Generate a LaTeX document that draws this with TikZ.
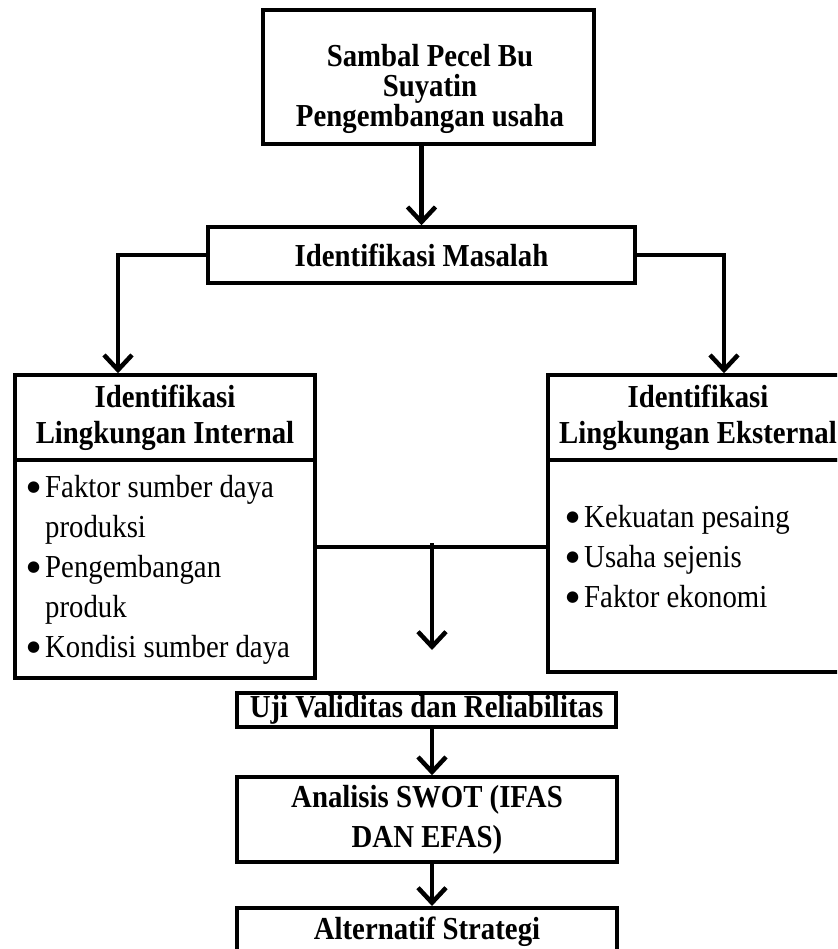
\documentclass[tikz,border=0pt]{standalone}
\usepackage{fontspec}
\setmainfont{Liberation Serif}[FakeStretch=0.9]
\newfontfamily\symfont{DejaVu Sans}
\usetikzlibrary{arrows.meta}
\newcommand{\blt}{\makebox[18pt][l]{\raisebox{6pt}{\symfont\fontsize{15}{15}\selectfont ●}}}

\begin{document}
\begin{tikzpicture}[x=1pt,y=-1pt]
\tikzstyle{every node}+=[inner sep=0pt]
\tikzstyle{box}=[draw=black, line width=3.5pt, fill=white]
\tikzstyle{bold}=[font=\fontsize{32}{36}\selectfont\bfseries, align=center]
\tikzstyle{plain}=[font=\fontsize{32}{40}\selectfont, align=left]
\tikzstyle{link}=[line width=3.5pt]
\tikzstyle{arr}=[line width=4.5pt, -{Straight Barb[length=15pt,width=28pt]}]
\useasboundingbox (0,0) rectangle (837,949);
\clip (0,0) rectangle (837,949);
\node [box, minimum width=331pt, minimum height=134pt] (usaha) at (428.5,77) {};
\node [bold, font=\fontsize{32}{30}\selectfont\bfseries] (usahaTxt) at (430,89) {Sambal Pecel Bu\\Suyatin\\Pengembangan usaha};
\node [box, bold, minimum width=427pt, minimum height=56pt] (masalah) at (421.5,255) {Identifikasi Masalah};
\node [box, bold, minimum width=300pt, minimum height=85pt] (intHead) at (165,417.5) {Identifikasi\\Lingkungan Internal};
\node [box, minimum width=300pt, minimum height=218pt] (intBody) at (165,569) {};
\node [plain, anchor=west] (intList) at (27,570) {\blt Faktor sumber daya\\\hspace*{18pt}produksi\\\blt Pengembangan\\\hspace*{18pt}produk\\\blt Kondisi sumber daya};
\node [box, bold, minimum width=300pt, minimum height=85pt] (extHead) at (698,417.5) {Identifikasi\\Lingkungan Eksternal};
\node [box, minimum width=300pt, minimum height=212pt] (extBody) at (698,566) {};
\node [plain, anchor=west] (extList) at (566,557) {\blt Kekuatan pesaing\\\blt Usaha sejenis\\\blt Faktor ekonomi};
\node [box, bold, minimum width=379pt, minimum height=34pt] (uji) at (426.5,710) {Uji Validitas dan Reliabilitas};
\node [box, bold, font=\fontsize{32}{40}\selectfont\bfseries, minimum width=380pt, minimum height=85pt] (swot) at (427,819.5) {Analisis SWOT (IFAS\\DAN EFAS)};
\node [box, bold, anchor=north, minimum width=380pt, inner ysep=9pt, text height=23pt, text depth=40pt] (strategi) at (427,906) {Alternatif Strategi};
\coordinate (lft) at (118,252);
\coordinate (rgt) at (724,252);
\coordinate (mid) at (432,547);
\coordinate (midEnd) at (432,650);
\draw [arr] (masalah.north |- usaha.south) -- (masalah.north);
\draw [arr] (masalah.west) -| (lft |- intHead.north);
\draw [arr] (masalah.east) -| (rgt |- extHead.north);
\draw [link] (intBody.east |- mid) -- (extBody.west |- mid);
\draw [arr] ([yshift=4pt]mid) -- (midEnd);
\draw [arr] (uji.south -| mid) -- (swot.north -| mid);
\draw [arr] (swot.south -| mid) -- (strategi.north -| mid);
\end{tikzpicture}
\end{document}
